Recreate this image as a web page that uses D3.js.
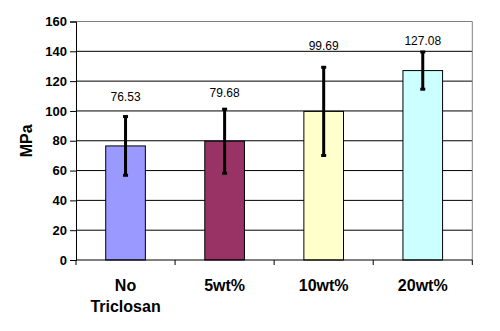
<!DOCTYPE html>
<html>
<head>
<meta charset="utf-8">
<script src="https://cdn.jsdelivr.net/npm/d3@7"></script>
<style>
  body { margin: 0; background: #fff; }
  svg { display: block; font-family: "Liberation Sans", Arial, sans-serif; }
</style>
</head>
<body>
<div id="chart"></div>
<script>
// data
var categories = ["No Triclosan", "5wt%", "10wt%", "20wt%"];
var values = [76.53, 79.68, 99.69, 127.08];
var errors = [19.7, 21.5, 29.6, 12.5];
var colors = ["#9999ff", "#993366", "#ffffcc", "#ccffff"];
var yTicks = [0, 20, 40, 60, 80, 100, 120, 140, 160];
var yTitle = "MPa";

var width = 500, height = 331;
var margin = {top: 21.5, right: 27.7, bottom: 71, left: 76};
// Excel placed the value labels by hand, so each one gets its own gap above the error bar
var labelGap = [15.5, 12.5, 17, 7];

var svg = d3.select("#chart").append("svg")
    .attr("width", width)
    .attr("height", height);

var xScale = d3.scaleBand()
    .domain(categories)
    .range([margin.left, width - margin.right])
    .paddingInner(0.6)
    .paddingOuter(0.3);

var yScale = d3.scaleLinear()
    .domain([0, 160])
    .range([height - margin.bottom, margin.top]);

var x0 = margin.left, x1 = width - margin.right;
var yBase = yScale(0);

// grid lines
svg.append("g")
    .selectAll("line")
    .data(yTicks.filter(t => t > 0 && t < 160))
    .enter().append("line")
    .attr("x1", x0).attr("x2", x1)
    .attr("y1", d => yScale(d)).attr("y2", d => yScale(d))
    .attr("stroke", "#000")
    .attr("stroke-width", 1);

// plot border (top & right gray)
svg.append("path")
    .attr("d", "M" + x0 + "," + yScale(160) + "H" + x1 + "V" + yBase)
    .attr("fill", "none")
    .attr("stroke", "#808080")
    .attr("stroke-width", 1);

// bars
svg.append("g")
    .selectAll("rect")
    .data(values)
    .enter().append("rect")
    .attr("x", (d, i) => xScale(categories[i]))
    .attr("y", d => yScale(d))
    .attr("width", xScale.bandwidth())
    .attr("height", d => yBase - yScale(d))
    .attr("fill", (d, i) => colors[i])
    .attr("stroke", "#000")
    .attr("stroke-width", 1);

// error bars
var err = svg.append("g").selectAll("g")
    .data(values)
    .enter().append("g")
    .attr("transform", (d, i) => "translate(" + (xScale(categories[i]) + xScale.bandwidth() / 2) + ",0)");

err.append("line")
    .attr("y1", (d, i) => yScale(d + errors[i]))
    .attr("y2", (d, i) => yScale(d - errors[i]))
    .attr("stroke", "#000")
    .attr("stroke-width", 3);

err.append("line")
    .attr("x1", -2.5).attr("x2", 2.5)
    .attr("y1", (d, i) => yScale(d + errors[i]))
    .attr("y2", (d, i) => yScale(d + errors[i]))
    .attr("stroke", "#000")
    .attr("stroke-width", 3);

err.append("line")
    .attr("x1", -2.5).attr("x2", 2.5)
    .attr("y1", (d, i) => yScale(d - errors[i]))
    .attr("y2", (d, i) => yScale(d - errors[i]))
    .attr("stroke", "#000")
    .attr("stroke-width", 3);

// value labels
err.append("text")
    .attr("y", (d, i) => yScale(d + errors[i]) - labelGap[i])
    .attr("text-anchor", "middle")
    .style("font-size", "12px")
    .attr("fill", "#000")
    .text(d => d.toFixed(2));

// y axis
var yAxis = d3.axisLeft(yScale)
    .tickValues(yTicks)
    .tickSize(6)
    .tickPadding(3);

var gy = svg.append("g")
    .attr("transform", "translate(" + x0 + ",0)")
    .call(yAxis);
gy.selectAll("path, line").attr("stroke", "#000");
gy.selectAll("text")
    .style("font-size", "13px")
    .style("font-weight", "bold")
    .style("font-family", "'Liberation Sans', Arial, sans-serif")
    .attr("fill", "#000");

// x axis: line + ticks at the category boundaries
var step = xScale.step();
var bounds = categories.map(c => xScale(c) + xScale.bandwidth() / 2 - step / 2);
bounds.push(bounds[bounds.length - 1] + step);

var gx = svg.append("g");
gx.append("line")
    .attr("x1", x0).attr("x2", x1)
    .attr("y1", yBase).attr("y2", yBase)
    .attr("stroke", "#000");
gx.selectAll(".tick")
    .data(bounds)
    .enter().append("line")
    .attr("class", "tick")
    .attr("x1", d => d).attr("x2", d => d)
    .attr("y1", yBase).attr("y2", yBase + 5)
    .attr("stroke", "#000");

gx.selectAll(".cat")
    .data(categories)
    .enter().append("text")
    .attr("class", "cat")
    .attr("text-anchor", "middle")
    .attr("x", d => xScale(d) + xScale.bandwidth() / 2)
    .attr("y", yBase + 31)
    .style("font-size", "16px")
    .style("font-weight", "bold")
    .attr("fill", "#000")
    .each(function(d) {
        var t = d3.select(this);
        d.split(" ").forEach((w, k) => {
            t.append("tspan")
                .attr("x", xScale(d) + xScale.bandwidth() / 2)
                .attr("dy", k === 0 ? 0 : 20.5)
                .text(w);
        });
    });

// y title
svg.append("text")
    .attr("transform", "rotate(-90)")
    .attr("x", -(yScale(0) + yScale(160)) / 2)
    .attr("y", 32)
    .attr("text-anchor", "middle")
    .style("font-size", "16px")
    .style("font-weight", "bold")
    .attr("fill", "#000")
    .text(yTitle);
</script>
</body>
</html>
